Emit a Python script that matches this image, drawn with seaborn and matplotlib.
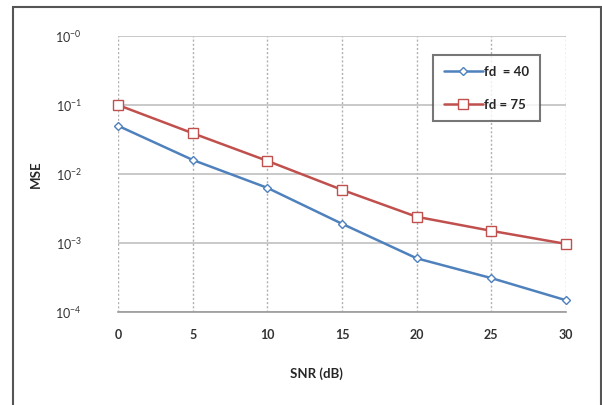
import matplotlib
matplotlib.use("Agg")
import matplotlib.pyplot as plt
import seaborn as sns
import pandas as pd
from matplotlib.patches import Rectangle
from matplotlib.lines import Line2D

snr = [0, 5, 10, 15, 20, 25, 30]
mse_fd40 = [0.05, 0.016, 0.0063, 0.0019, 0.0006, 0.00031, 0.000148]
mse_fd75 = [0.1, 0.039, 0.0155, 0.0059, 0.0024, 0.0015, 0.00097]
series_labels = ["fd  = 40", "fd = 75"]
ytick_vals = [1e0, 1e-1, 1e-2, 1e-3, 1e-4]
ytick_labels = [r"$10^{-0}$", r"$10^{-1}$", r"$10^{-2}$", r"$10^{-3}$", r"$10^{-4}$"]

sns.set_style("white")
plt.rcParams['font.family'] = ['Lato', 'DejaVu Sans']
plt.rcParams['mathtext.fontset'] = 'custom'
plt.rcParams['mathtext.rm'] = 'Lato'
plt.rcParams['mathtext.it'] = 'Lato'

df = pd.DataFrame({
    "snr": snr * 2,
    "mse": mse_fd40 + mse_fd75,
    "series": [series_labels[0]] * len(snr) + [series_labels[1]] * len(snr),
})

fig = plt.figure(figsize=(6.02, 4.05), dpi=100)
ax = fig.add_axes([118/602, 1 - 312/405, (566-118)/602, (312-36)/405])

blue = "#4f81bd"
red = "#c0504d"
sns.lineplot(data=df, x="snr", y="mse", hue="series", style="series",
             palette=[blue, red], markers=["D", "s"], dashes=False,
             ax=ax, linewidth=1.8, legend=False)
# marker styling: hollow markers
for line, ms, col in zip(ax.get_lines(), [4.5, 6.5], [blue, red]):
    line.set_markerfacecolor("white")
    line.set_markeredgecolor(col)
    line.set_markersize(ms)
    line.set_markeredgewidth(1.0)
    line.set_clip_on(False)
    line.set_zorder(5)

ax.set_yscale("log")
ax.set_ylim(1e-4, 1e0)
ax.set_xlim(0, 30)
ax.set_xticks(snr)
ax.set_xticklabels([str(s) for s in snr], fontsize=9, color="#333333", fontweight="bold")
ax.set_yticks(ytick_vals)
ax.set_yticklabels(ytick_labels, fontsize=9, color="#333333")
ax.yaxis.set_minor_locator(matplotlib.ticker.NullLocator())
ax.tick_params(axis="y", length=0, pad=26)
ax.tick_params(axis="x", length=4, color="#999999", pad=8, direction="out")
ax.tick_params(axis="x", which="minor", length=0)

ax.grid(True, axis="y", color="#c0c0c0", linewidth=1.2, linestyle="-")
ax.grid(True, axis="x", color="#b0b0b0", linewidth=1.0, linestyle=(0, (1.5, 1.5)))
for s in ["top", "right"]:
    ax.spines[s].set_visible(False)
ax.spines["left"].set_visible(False)
ax.spines["bottom"].set_color("#999999")
ax.spines["bottom"].set_linewidth(1.2)

ax.set_xlabel("SNR (dB)", fontsize=9.5, fontweight="bold")
ax.xaxis.set_label_coords((316-118)/448, -(367-312)/276)
ax.set_ylabel("MSE", fontsize=9.5, fontweight="bold", labelpad=10)

handles = [
    Line2D([], [], color=blue, marker="D", markersize=4.5, markerfacecolor="white",
           markeredgecolor=blue, linewidth=1.8),
    Line2D([], [], color=red, marker="s", markersize=6.5, markerfacecolor="white",
           markeredgecolor=red, linewidth=1.8),
]
leg = ax.legend(handles, series_labels, loc="upper left",
                bbox_to_anchor=((433-118)/448, 1 - (55-36)/276),
                frameon=True, fancybox=False, labelspacing=1.6,
                prop={"size": 9.5, "weight": "bold"},
                handlelength=3.0, borderpad=0.8, handletextpad=0.1,
                borderaxespad=0)
leg.get_frame().set_edgecolor("#555555")
leg.get_frame().set_linewidth(1.5)
leg.set_zorder(10)

fig.patches.append(Rectangle((13/602, -0.01), (601-13)/602, 1 - 7/405 + 0.01,
                             transform=fig.transFigure, fill=False,
                             edgecolor="#555555", linewidth=1.5))

fig.savefig("out.png", dpi=100)
